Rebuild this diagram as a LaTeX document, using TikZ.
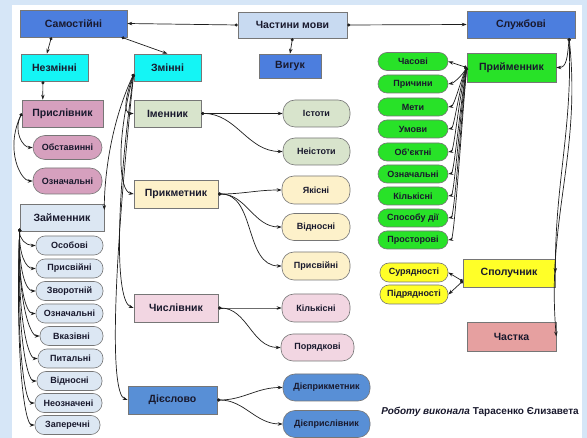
\documentclass[tikz,border=0pt]{standalone}
\usepackage{fontspec}
\setmainfont{Liberation Sans}
\usetikzlibrary{arrows.meta}
\definecolor{bgblue}{RGB}{214,230,247}
\definecolor{boxline}{RGB}{118,118,118}
\definecolor{linkcol}{RGB}{30,30,30}
\definecolor{labeltext}{RGB}{25,25,45}
\definecolor{royal}{RGB}{76,126,222}
\definecolor{paleblue}{RGB}{200,218,241}
\definecolor{aqua}{RGB}{20,245,245}
\definecolor{lime}{RGB}{40,226,40}
\definecolor{mauve}{RGB}{214,160,190}
\definecolor{icyblue}{RGB}{220,231,243}
\definecolor{sage}{RGB}{216,228,204}
\definecolor{cream}{RGB}{253,241,202}
\definecolor{rosy}{RGB}{242,214,226}
\definecolor{midblue}{RGB}{88,143,214}
\definecolor{lemon}{RGB}{255,255,40}
\definecolor{salmon}{RGB}{230,160,160}
\begin{document}
\begin{tikzpicture}[x=1pt,y=-1pt,
  box/.style={draw=boxline,line width=0.6pt,inner sep=0pt,text=labeltext,
    font=\fontsize{10.5}{12}\selectfont\bfseries},
  wh/.style 2 args={minimum width=#1pt,minimum height=#2pt},
  oval/.style={box,rounded corners=9pt,font=\fontsize{9}{10}\selectfont\bfseries},
  pill/.style={oval,rounded corners=12pt},
  link/.style={line width=0.7pt,draw=linkcol,
    {Circle[length=3pt]}-{Stealth[length=5pt,width=3.5pt]}}]
\useasboundingbox (0,0) rectangle (587,438);
\fill[bgblue] (0,0) rectangle (587,438);
\fill[white] (12,5) rectangle (582,438);

\node[box,fill=royal,wh={107}{27}] (sam) at (73.5,23.5) {Самостійні};
\node[box,fill=paleblue,wh={109}{26}] (chm) at (292.5,25) {Частини мови};
\node[box,fill=royal,wh={108}{27}] (sluz) at (521,24.5) {Службові};
\node[box,fill=aqua,wh={67}{27}] (nezm) at (54.5,67.5) {Незмінні};
\node[box,fill=aqua,wh={67}{27}] (zmin) at (167.5,67.5) {Змінні};
\node[box,fill=royal,wh={62}{24}] (vyh) at (290,66) {Вигук};
\node[box,fill=lime,wh={89}{29}] (pryim) at (511.5,67.5) {Прийменник};

\node[box,fill=mauve,wh={81}{27}] (prysl) at (62.5,113.5) {Прислівник};
\node[pill,fill=mauve,wh={69}{24}] (obst) at (67.5,147.5) {Обставинні};
\node[pill,fill=mauve,wh={69}{26}] (ozn) at (67.5,181) {Означальні};
\node[box,fill=icyblue,wh={84}{27}] (zaim) at (62,217.5) {Займенник};
\node[oval,fill=icyblue,wh={67}{19}] (zosob) at (69.5,245.5) {Особові};
\node[oval,fill=icyblue,wh={67}{19}] (zprysv) at (69.5,268.5) {Присвійні};
\node[oval,fill=icyblue,wh={67}{19}] (zzvor) at (69.5,291) {Зворотній};
\node[oval,fill=icyblue,wh={67}{19}] (zozn) at (69.5,313.5) {Означальні};
\node[oval,fill=icyblue,wh={63}{19}] (zvkaz) at (71.5,336) {Вказівні};
\node[oval,fill=icyblue,wh={65}{19}] (zpyt) at (70.5,358.5) {Питальні};
\node[oval,fill=icyblue,wh={65}{19}] (zvidn) at (69.5,381) {Відносні};
\node[oval,fill=icyblue,wh={67}{19}] (zneozn) at (68.5,403) {Неозначені};
\node[oval,fill=icyblue,wh={65}{19}] (zzaper) at (67.5,425) {Заперечні};

\node[box,fill=sage,wh={67}{27}] (imen) at (167.5,113.5) {Іменник};
\node[box,fill=cream,wh={84}{28}] (prykm) at (176,194) {Прикметник};
\node[box,fill=rosy,wh={84}{28}] (chysl) at (176,308) {Числівник};
\node[box,fill=midblue,wh={89}{28}] (diesl) at (172.5,400) {Дієслово};

\node[pill,fill=sage,wh={67}{27}] (ist) at (316.5,113.5) {Істоти};
\node[pill,fill=sage,wh={67}{27}] (neist) at (316.5,151.5) {Неістоти};
\node[pill,fill=cream,wh={68}{28}] (yak) at (316,190) {Якісні};
\node[pill,fill=cream,wh={68}{27}] (vidn) at (316,227) {Відносні};
\node[pill,fill=cream,wh={68}{28}] (prysv) at (316,266) {Присвійні};
\node[pill,fill=rosy,wh={68}{28}] (kilk) at (316,308) {Кількісні};
\node[pill,fill=rosy,wh={73}{27}] (por) at (317.5,347.5) {Порядкові};
\node[pill,fill=midblue,wh={87}{27}] (dprykm) at (326.5,387.5) {Дієприкметник};
\node[pill,fill=midblue,wh={87}{27}] (dprysl) at (326.5,424) {Дієприслівник};

\node[oval,fill=lime,wh={70}{18}] (pchas) at (413,61.5) {Часові};
\node[oval,fill=lime,wh={70}{18}] (pprych) at (413,84) {Причини};
\node[oval,fill=lime,wh={70}{18}] (pmety) at (413,107) {Мети};
\node[oval,fill=lime,wh={70}{18}] (pumov) at (413,129) {Умови};
\node[oval,fill=lime,wh={70}{18}] (pobj) at (413,152) {Об’єктні};
\node[oval,fill=lime,wh={70}{18}] (pozn) at (413,174) {Означальні};
\node[oval,fill=lime,wh={70}{18}] (pkilk) at (413,196) {Кількісні};
\node[oval,fill=lime,wh={70}{18}] (psposib) at (413,218) {Способу дії};
\node[oval,fill=lime,wh={70}{18}] (pprost) at (413,240) {Просторові};

\node[box,fill=lemon,wh={92}{28}] (spol) at (509,273) {Сполучник};
\node[oval,fill=lemon,wh={68}{19}] (sur) at (414,272.5) {Сурядності};
\node[oval,fill=lemon,wh={68}{19}] (pidr) at (414,294.5) {Підрядності};
\node[box,fill=salmon,wh={89}{29}] (chast) at (511.5,336.5) {Частка};

\node[text=labeltext,font=\fontsize{10}{12}\selectfont\bfseries] (avtor) at (480,412)
  {\itshape Роботу виконала \upshape Тарасенко Єлизавета};

\draw[link] (chm.west) -- (sam.east);
\draw[link] (chm.east) -- (sluz.west);
\draw[link] (chm.south) -- (vyh.north);
\draw[link] (sam.212) -- (nezm.119);
\draw[link] (sam.-16) -- (zmin.north);
\draw[link] (nezm.-130) -- (prysl.145);

\draw[link] (prysl.west) to[out=-115,in=180,out distance=20pt,in distance=10pt] (obst.west);
\draw[link] (prysl.west) to[out=-115,in=180,out distance=40pt,in distance=12pt] (ozn.west);

\draw[link] (zmin.191) to[out=-110,in=180,out distance=20pt,in distance=12pt] (imen.west);
\draw[link] (zmin.191) to[out=-105,in=170,out distance=70pt,in distance=15pt] (prykm.west);
\draw[link] (zmin.191) to[out=-115,in=90,out distance=60pt,in distance=25pt] (zaim.10);
\draw[link] (zmin.191) to[out=-98,in=160,out distance=130pt,in distance=20pt] (chysl.west);
\draw[link] (zmin.191) to[out=-96,in=160,out distance=190pt,in distance=20pt] (diesl.west);

\draw[link] (zaim.195) to[out=-92,in=180,out distance=10pt,in distance=10pt] (zosob.west);
\draw[link] (zaim.195) to[out=-92,in=180,out distance=25pt,in distance=10pt] (zprysv.west);
\draw[link] (zaim.195) to[out=-92,in=180,out distance=40pt,in distance=10pt] (zzvor.west);
\draw[link] (zaim.195) to[out=-92,in=180,out distance=55pt,in distance=10pt] (zozn.west);
\draw[link] (zaim.195) to[out=-92,in=180,out distance=70pt,in distance=10pt] (zvkaz.west);
\draw[link] (zaim.195) to[out=-92,in=180,out distance=85pt,in distance=10pt] (zpyt.west);
\draw[link] (zaim.195) to[out=-92,in=180,out distance=100pt,in distance=10pt] (zvidn.west);
\draw[link] (zaim.195) to[out=-92,in=180,out distance=115pt,in distance=10pt] (zneozn.west);
\draw[link] (zaim.195) to[out=-92,in=180,out distance=130pt,in distance=10pt] (zzaper.west);

\draw[link] (imen.east) to[out=0,in=180] (ist.west);
\draw[link] (imen.east) to[out=0,in=180] (neist.west);
\draw[link] (prykm.east) to[out=0,in=180] (yak.west);
\draw[link] (prykm.east) to[out=0,in=180] (vidn.west);
\draw[link] (prykm.east) to[out=0,in=180] (prysv.west);
\draw[link] (chysl.east) to[out=0,in=180] (kilk.west);
\draw[link] (chysl.east) to[out=0,in=180] (por.west);
\draw[link] (diesl.east) to[out=0,in=180] (dprykm.west);
\draw[link] (diesl.east) to[out=0,in=180] (dprysl.west);

\draw[link] (sluz.-16) to[out=-95,in=0,out distance=20pt,in distance=10pt] (pryim.east);
\draw[link] (sluz.-16) to[out=-88,in=90] (spol.east);
\draw[link] (sluz.-16) to[out=-84,in=95] (chast.east);

\draw[link] (pryim.west) -- (pchas.east);
\draw[link] (pryim.west) to[out=-120,in=10,out distance=8pt,in distance=6pt] (pprych.east);
\draw[link] (pryim.west) to[out=-115,in=10,out distance=15pt,in distance=6pt] (pmety.east);
\draw[link] (pryim.west) to[out=-110,in=10,out distance=22pt,in distance=6pt] (pumov.east);
\draw[link] (pryim.west) to[out=-105,in=10,out distance=30pt,in distance=6pt] (pobj.east);
\draw[link] (pryim.west) to[out=-100,in=10,out distance=38pt,in distance=6pt] (pozn.east);
\draw[link] (pryim.west) to[out=-98,in=10,out distance=46pt,in distance=6pt] (pkilk.east);
\draw[link] (pryim.west) to[out=-96,in=10,out distance=54pt,in distance=6pt] (psposib.east);
\draw[link] (pryim.west) to[out=-95,in=10,out distance=62pt,in distance=6pt] (pprost.east);

\draw[link] (spol.190) -- (sur.east);
\draw[link] (spol.190) -- (pidr.east);
\end{tikzpicture}
\end{document}
